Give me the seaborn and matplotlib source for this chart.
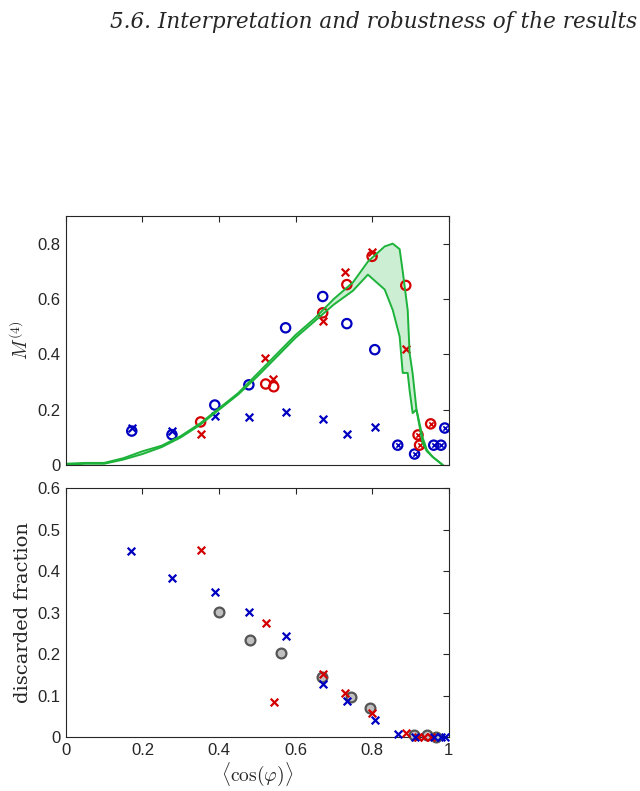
import numpy as np
import pandas as pd
import seaborn as sns
import matplotlib.pyplot as plt

# top panel: M^(4)
blue_o_x = [0.172, 0.277, 0.389, 0.478, 0.574, 0.671, 0.734, 0.807]
blue_o_y = [0.123, 0.110, 0.217, 0.290, 0.496, 0.609, 0.511, 0.417]
blue_ox_x = [0.867, 0.911, 0.961, 0.980, 0.990]
blue_ox_y = [0.072, 0.040, 0.072, 0.072, 0.134]
red_o_x = [0.352, 0.522, 0.543, 0.671, 0.734, 0.800, 0.888]
red_o_y = [0.156, 0.293, 0.283, 0.550, 0.652, 0.754, 0.649]
red_ox_x = [0.920, 0.924, 0.953]
red_ox_y = [0.109, 0.072, 0.149]
red_x_x = [0.352, 0.520, 0.540, 0.671, 0.728, 0.800, 0.888]
red_x_y = [0.112, 0.388, 0.310, 0.522, 0.696, 0.768, 0.420]
blue_x_x = [0.172, 0.277, 0.389, 0.478, 0.574, 0.671, 0.734, 0.807]
blue_x_y = [0.134, 0.123, 0.178, 0.174, 0.192, 0.167, 0.112, 0.138]

band_x = [0.0, 0.05, 0.1, 0.15, 0.2, 0.25, 0.3, 0.35, 0.4, 0.45, 0.5, 0.55, 0.6,
          0.65, 0.7, 0.75, 0.789, 0.833, 0.854, 0.872, 0.88, 0.893, 0.898, 0.906,
          0.916, 0.932, 0.943, 0.958, 0.985]
band_lo = [0.0, 0.005, 0.005, 0.02, 0.04, 0.065, 0.10, 0.145, 0.20, 0.255, 0.32, 0.39,
           0.46, 0.52, 0.58, 0.63, 0.688, 0.634, 0.56, 0.464, 0.333, 0.333, 0.27, 0.188,
           0.20, 0.08, 0.05, 0.03, 0.0]
band_hi = [0.005, 0.008, 0.008, 0.025, 0.05, 0.07, 0.105, 0.15, 0.205, 0.26, 0.33, 0.40,
           0.47, 0.53, 0.60, 0.66, 0.735, 0.79, 0.80, 0.78, 0.70, 0.56, 0.405, 0.33,
           0.20, 0.10, 0.055, 0.03, 0.0]

# bottom panel: discarded fraction
bb_x = [0.170, 0.277, 0.389, 0.478, 0.574, 0.671, 0.734, 0.807, 0.867, 0.911, 0.961, 0.980, 0.990]
bb_y = [0.448, 0.383, 0.349, 0.301, 0.243, 0.128, 0.087, 0.041, 0.007, 0.0, 0.0, 0.0, 0.0]
rb_x = [0.352, 0.522, 0.543, 0.671, 0.728, 0.800, 0.888, 0.920, 0.935, 0.953]
rb_y = [0.451, 0.275, 0.084, 0.152, 0.106, 0.058, 0.010, 0.0, 0.0, 0.0]
gb_x = [0.399, 0.480, 0.561, 0.668, 0.744, 0.794, 0.909, 0.943, 0.966]
gb_y = [0.301, 0.234, 0.202, 0.145, 0.096, 0.070, 0.005, 0.005, 0.0]

sns.set_style("white")
plt.rcParams['font.family'] = ['Liberation Sans', 'DejaVu Sans']
plt.rcParams['mathtext.fontset'] = 'cm'

BLUE = '#0000c0'
RED = '#d40000'
GREEN = '#1db33a'

fig = plt.figure(figsize=(6.4, 7.91), dpi=100)
fig.text(0.995, 0.972, "5.6. Interpretation and robustness of the results",
         ha='right', va='center', fontsize=15.5, style='italic', family='DejaVu Serif')

ax1 = fig.add_axes([0.103, 0.412, 0.598, 0.315])
ax2 = fig.add_axes([0.103, 0.068, 0.598, 0.315])

ax1.fill_between(band_x, band_lo, band_hi, color='#ccefd4', lw=0)
sns.lineplot(x=band_x, y=band_lo, ax=ax1, color=GREEN, lw=1.4, sort=False)
sns.lineplot(x=band_x, y=band_hi, ax=ax1, color=GREEN, lw=1.4, sort=False)

kw_o = dict(facecolor='none', s=45, linewidth=1.6)
sns.scatterplot(x=blue_o_x, y=blue_o_y, ax=ax1, marker='o', edgecolor=BLUE, **kw_o)
sns.scatterplot(x=red_o_x, y=red_o_y, ax=ax1, marker='o', edgecolor=RED, **kw_o)
sns.scatterplot(x=blue_ox_x, y=blue_ox_y, ax=ax1, marker='o', edgecolor=BLUE, **kw_o)
sns.scatterplot(x=red_ox_x, y=red_ox_y, ax=ax1, marker='o', edgecolor=RED, **kw_o)
sns.scatterplot(x=blue_ox_x, y=blue_ox_y, ax=ax1, marker='x', color=BLUE, s=10, linewidth=1.2)
sns.scatterplot(x=red_ox_x, y=red_ox_y, ax=ax1, marker='x', color=RED, s=10, linewidth=1.2)
sns.scatterplot(x=red_x_x, y=red_x_y, ax=ax1, marker='x', color=RED, s=30, linewidth=1.6)
sns.scatterplot(x=blue_x_x, y=blue_x_y, ax=ax1, marker='x', color=BLUE, s=30, linewidth=1.6)

sns.scatterplot(x=gb_x, y=gb_y, ax=ax2, marker='o', color='#c0c0c0', edgecolor='#555555',
                s=50, linewidth=1.6, clip_on=False, zorder=3)
sns.scatterplot(x=rb_x, y=rb_y, ax=ax2, marker='x', color=RED, s=30, linewidth=1.6,
                clip_on=False, zorder=4)
sns.scatterplot(x=bb_x, y=bb_y, ax=ax2, marker='x', color=BLUE, s=30, linewidth=1.6,
                clip_on=False, zorder=5)

ax1.set_xlim(0, 1)
ax1.set_ylim(0, 0.9)
ax1.set_yticks([0, 0.2, 0.4, 0.6, 0.8])
ax1.set_yticklabels(['0', '0.2', '0.4', '0.6', '0.8'])
ax1.set_xticks([0, 0.2, 0.4, 0.6, 0.8, 1])
ax1.set_xticklabels([])
ax1.set_ylabel(r'$M^{(4)}$', fontsize=14)

ax2.set_xlim(0, 1)
ax2.set_ylim(0, 0.6)
ax2.set_yticks([0, 0.1, 0.2, 0.3, 0.4, 0.5, 0.6])
ax2.set_yticklabels(['0', '0.1', '0.2', '0.3', '0.4', '0.5', '0.6'])
ax2.set_xticks([0, 0.2, 0.4, 0.6, 0.8, 1])
ax2.set_xticklabels(['0', '0.2', '0.4', '0.6', '0.8', '1'])
ax2.set_ylabel('discarded fraction', fontsize=14, family='DejaVu Serif')
ax2.set_xlabel(r'$\langle\cos(\varphi)\rangle$', fontsize=14, labelpad=2)

for ax in (ax1, ax2):
    ax.tick_params(direction='in', top=True, right=True, length=4, width=0.8,
                   labelsize=12, pad=4, colors='#262626')
    for s in ax.spines.values():
        s.set_color('#262626')
        s.set_linewidth(0.8)

fig.savefig('out.png', dpi=100)
